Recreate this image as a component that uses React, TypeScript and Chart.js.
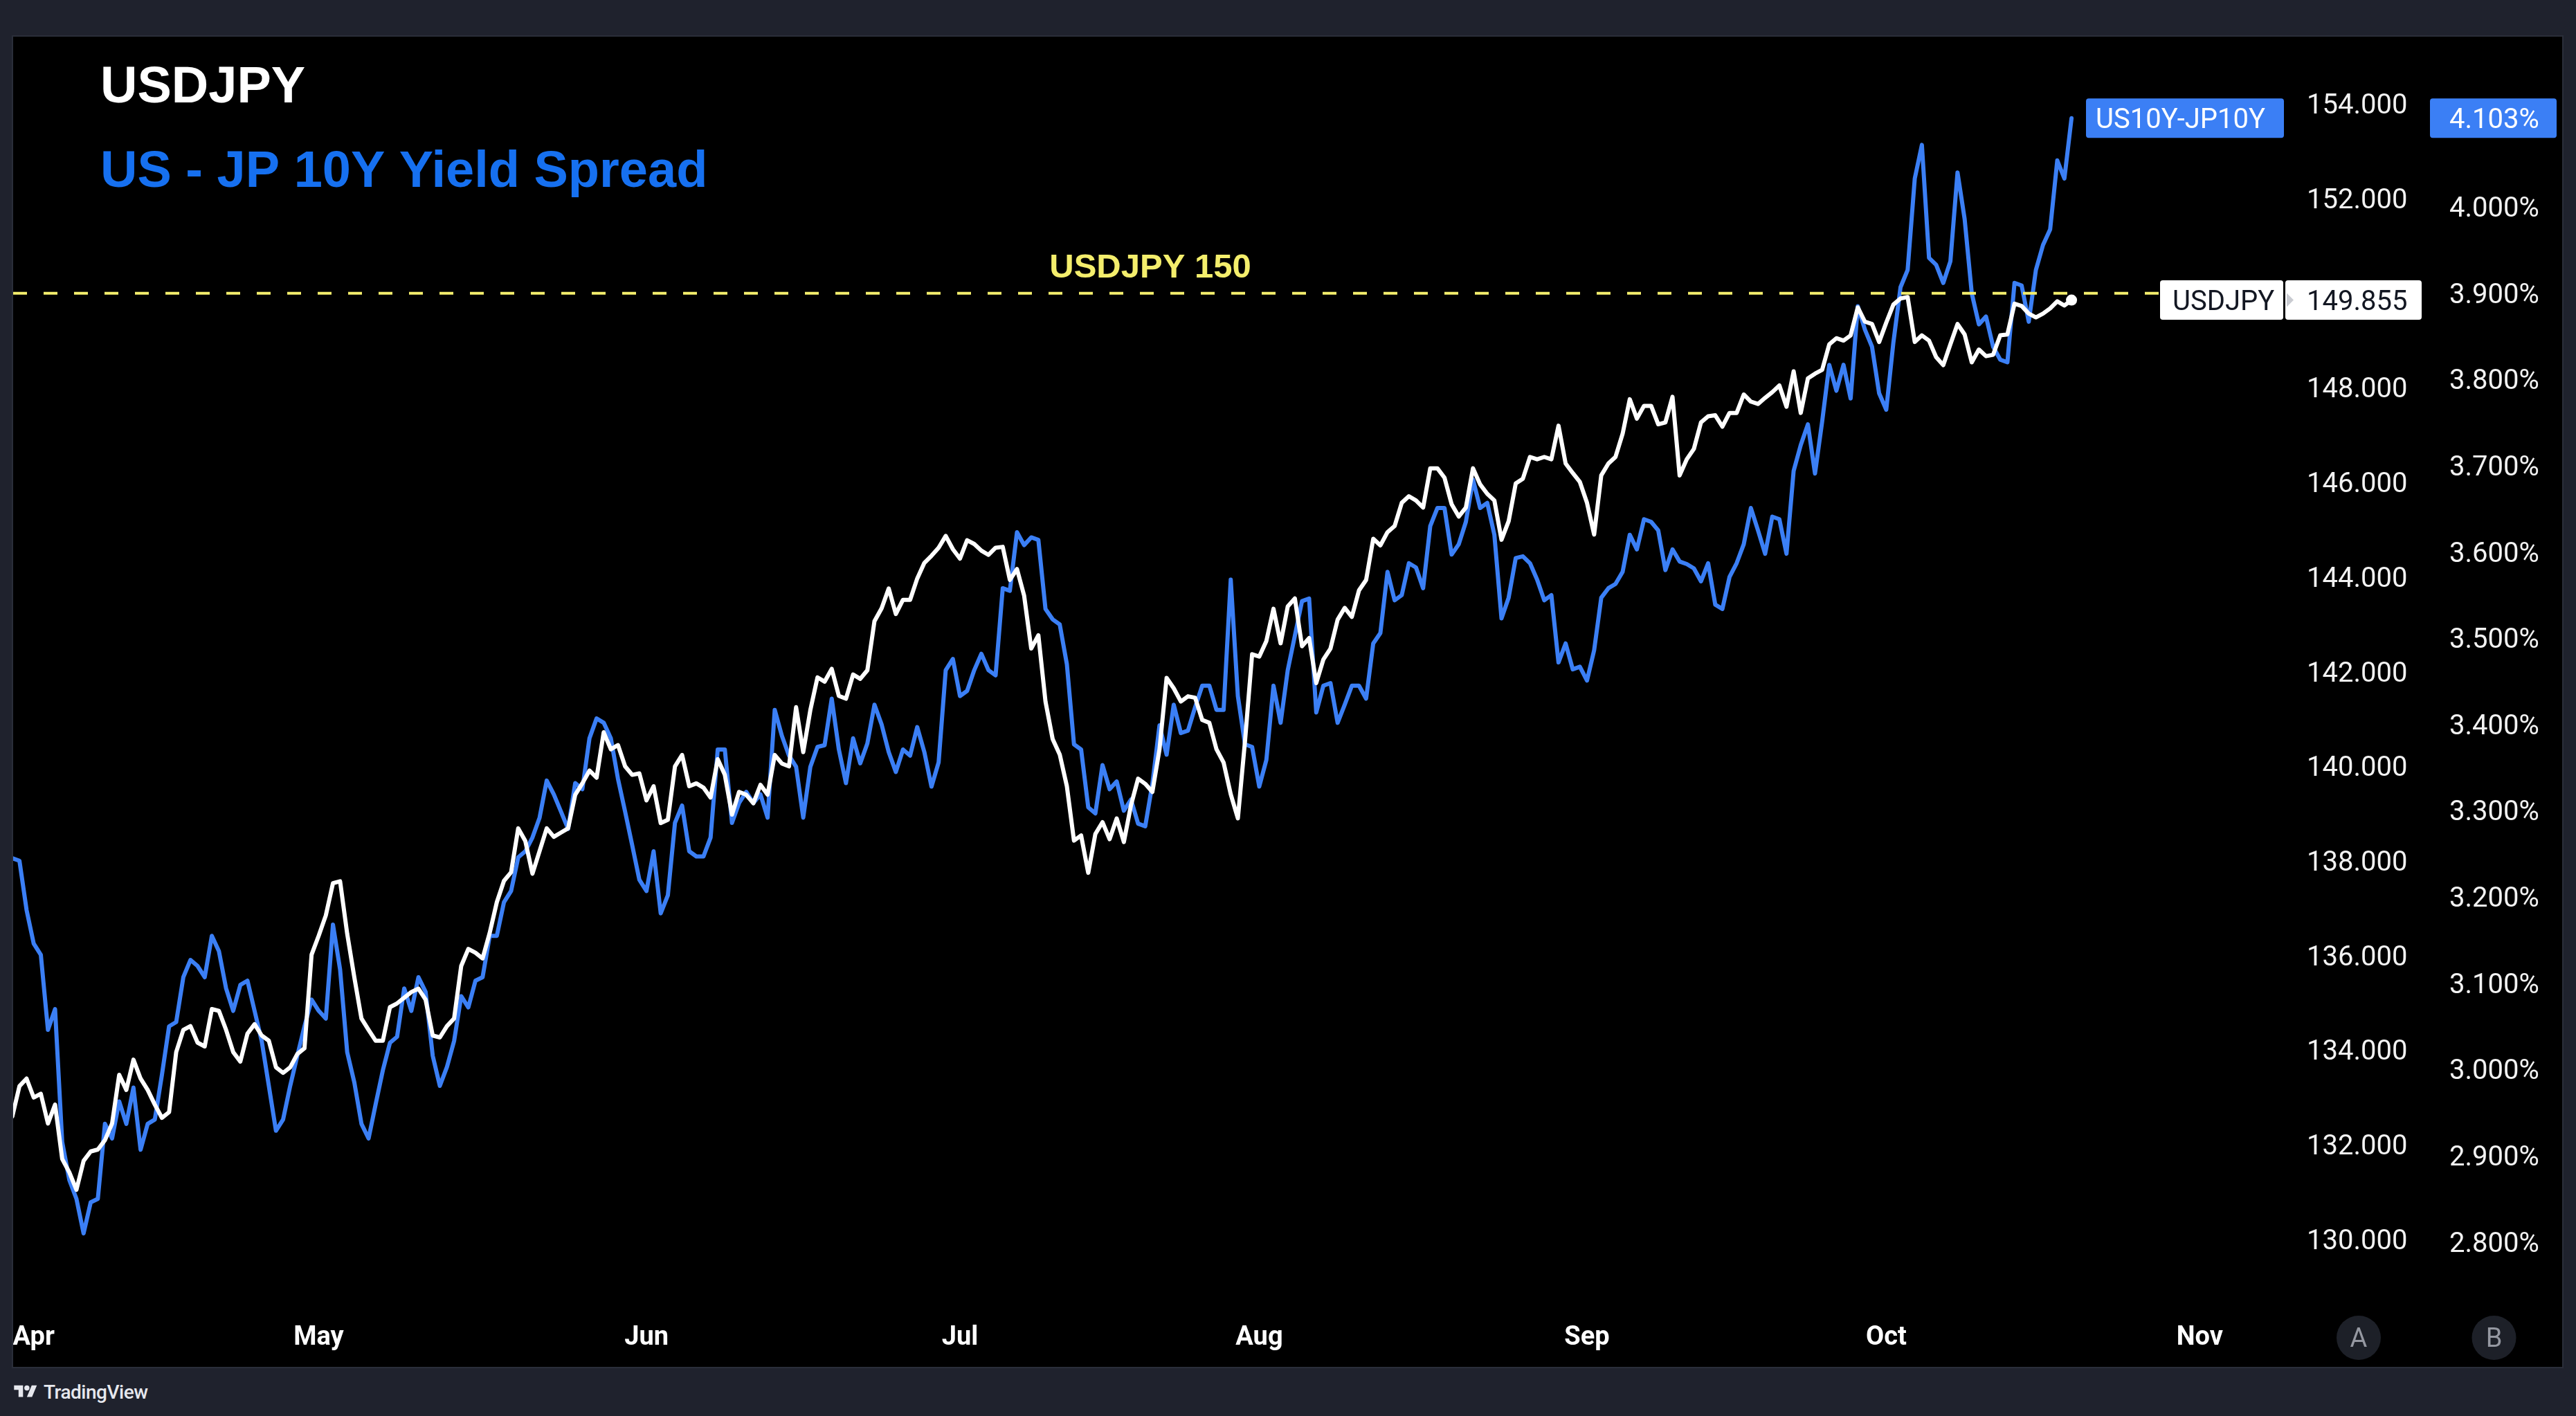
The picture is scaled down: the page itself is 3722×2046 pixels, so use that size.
import React, { useEffect, useRef } from 'react';
import { Chart, registerables } from 'chart.js';

Chart.register(...registerables);

// x positions are trading-day indices (0 = first trading day of April), sampled every half day
const X_START = -1.5;
const X_STEP = 0.5;

const usdjpy = [
  132.6,
  133.24, 133.4, 133.0, 133.08, 132.45, 132.85, 131.7, 131.42, 131.05, 131.66, 131.86, 131.9, 132.1, 132.45, 133.48, 133.16,
  133.8, 133.4, 133.16, 132.85, 132.57, 132.69, 133.96, 134.43, 134.51, 134.16, 134.08, 134.87, 134.83, 134.43, 133.96, 133.76,
  134.35, 134.55, 134.31, 134.2, 133.64, 133.52, 133.64, 133.92, 134.04, 136.02, 136.42, 136.85, 137.53, 137.57, 136.46, 135.54,
  134.67, 134.43, 134.2, 134.2, 134.91, 134.99, 135.11, 135.23, 135.3, 135.07, 134.31, 134.27, 134.51, 134.67, 135.78, 136.14,
  136.06, 135.94,
  136.48, 137.13, 137.58, 137.76, 138.69, 138.42, 137.73, 138.21, 138.69, 138.51, 138.6, 138.69, 139.4, 139.64, 139.91, 139.76,
  140.72, 140.36, 140.45, 140.0, 139.82, 139.85, 139.28, 139.58, 138.8, 138.87, 140.0, 140.24, 139.58, 139.64, 139.55, 139.34,
  140.15, 139.82, 138.98, 139.46, 139.4, 139.22, 139.61, 139.4, 140.24, 140.06, 140.0, 141.25, 140.3, 141.19, 141.88, 141.79,
  142.06, 141.49, 141.43, 141.94, 141.85, 142.03, 143.07, 143.34, 143.76, 143.22, 143.52, 143.52, 143.97, 144.3,
  144.45, 144.62, 144.87, 144.59, 144.39, 144.78, 144.7, 144.56, 144.47, 144.62, 144.64, 143.94, 144.17, 143.61, 142.49, 142.77,
  141.37, 140.58, 140.25, 139.58, 138.43, 138.54, 137.75, 138.57, 138.82, 138.46, 138.9, 138.4, 139.18, 139.74, 139.63, 139.46,
  140.36, 141.87, 141.65, 141.37, 141.48, 141.45, 140.98, 140.92, 140.36, 140.08, 139.41, 138.9, 140.53, 142.37, 142.32, 142.65,
  143.33, 142.6, 143.38, 143.55, 142.54, 142.71, 141.76, 142.26, 142.49, 143.1, 143.35, 143.16, 143.72, 143.94, 144.81, 144.67,
  144.95,
  145.08, 145.57, 145.71, 145.62, 145.47, 146.3, 146.3, 146.1, 145.54, 145.28, 145.47, 146.3, 145.96, 145.76, 145.62, 144.79,
  145.18, 145.98, 146.08, 146.54, 146.49, 146.54, 146.49, 147.2, 146.4, 146.2, 146.01, 145.57, 144.9, 146.15, 146.4, 146.54,
  147.03, 147.76, 147.35, 147.62, 147.62, 147.23, 147.27, 147.81, 146.15, 146.49, 146.71, 147.27, 147.4, 147.42, 147.18, 147.47,
  147.47, 147.86, 147.71, 147.66, 147.79, 147.91, 148.05, 147.6, 148.35, 147.47, 148.2, 148.3,
  148.38, 148.92, 149.05, 149.0, 149.11, 149.7, 149.4, 149.35, 148.97, 149.38, 149.76, 149.89, 149.92, 148.97, 149.11, 149.0,
  148.65, 148.48, 148.92, 149.35, 149.13, 148.54, 148.81, 148.67, 148.7, 149.11, 149.13, 149.78, 149.73, 149.57, 149.49, 149.57,
  149.68, 149.83, 149.74, 149.855,
];

const spread = [
  3.245,
  3.242, 3.185, 3.146, 3.133, 3.046, 3.07, 2.916, 2.872, 2.85, 2.81, 2.846, 2.85, 2.937, 2.92, 2.963, 2.937,
  2.979, 2.907, 2.937, 2.942, 2.994, 3.05, 3.055, 3.107, 3.127, 3.12, 3.107, 3.155, 3.137, 3.094, 3.068, 3.098,
  3.103, 3.068, 3.033, 2.981, 2.929, 2.942, 2.981, 3.016, 3.05, 3.081, 3.068, 3.059, 3.168, 3.116, 3.02, 2.985,
  2.937, 2.92, 2.96, 2.999, 3.031, 3.038, 3.094, 3.068, 3.107, 3.09, 3.016, 2.981, 3.003, 3.033, 3.085, 3.072,
  3.103, 3.107,
  3.155, 3.155, 3.194, 3.207, 3.246, 3.253, 3.269, 3.292, 3.335, 3.319, 3.299, 3.279, 3.332, 3.325, 3.384, 3.407,
  3.402, 3.384, 3.337, 3.299, 3.26, 3.22, 3.207, 3.253, 3.181, 3.202, 3.286, 3.306, 3.253, 3.247, 3.247, 3.269,
  3.371, 3.371, 3.286, 3.309, 3.322, 3.309, 3.319, 3.292, 3.417, 3.387, 3.364, 3.351, 3.292, 3.351, 3.374, 3.376,
  3.43, 3.371, 3.332, 3.384, 3.355, 3.378, 3.423, 3.4, 3.368, 3.345, 3.371, 3.364, 3.397, 3.368,
  3.328, 3.356, 3.463, 3.476, 3.433, 3.439, 3.463, 3.482, 3.463, 3.457, 3.558, 3.555, 3.623, 3.608, 3.617, 3.614,
  3.534, 3.522, 3.516, 3.47, 3.377, 3.371, 3.304, 3.297, 3.353, 3.325, 3.334, 3.3, 3.313, 3.285, 3.282, 3.331,
  3.399, 3.365, 3.423, 3.39, 3.393, 3.42, 3.445, 3.445, 3.417, 3.417, 3.568, 3.433, 3.377, 3.374, 3.328, 3.359,
  3.445, 3.402, 3.463, 3.503, 3.543, 3.546, 3.414, 3.445, 3.448, 3.402, 3.423, 3.445, 3.445, 3.43, 3.494, 3.506,
  3.577,
  3.544, 3.55, 3.587, 3.582, 3.558, 3.63, 3.651, 3.651, 3.597, 3.609, 3.635, 3.684, 3.651, 3.657, 3.62, 3.523,
  3.547, 3.593, 3.595, 3.587, 3.568, 3.544, 3.55, 3.472, 3.494, 3.464, 3.467, 3.451, 3.486, 3.547, 3.558, 3.563,
  3.577, 3.62, 3.603, 3.638, 3.635, 3.625, 3.579, 3.603, 3.589, 3.586, 3.581, 3.566, 3.587, 3.539, 3.534, 3.571,
  3.587, 3.609, 3.651, 3.625, 3.598, 3.641, 3.638, 3.598, 3.694, 3.724, 3.748, 3.691,
  3.751, 3.817, 3.787, 3.817, 3.778, 3.885, 3.858, 3.838, 3.784, 3.765, 3.843, 3.907, 3.927, 4.033, 4.072, 3.941,
  3.933, 3.912, 3.937, 4.04, 3.986, 3.9, 3.864, 3.873, 3.838, 3.823, 3.82, 3.912, 3.909, 3.867, 3.927, 3.956,
  3.974, 4.054, 4.033, 4.103,
];

const monthLabels = ['Apr', 'May', 'Jun', 'Jul', 'Aug', 'Sep', 'Oct', 'Nov'];
const monthStartIndex = [0, 20, 43, 65, 86, 109, 130, 152];
const jpyTicks = [130, 132, 134, 136, 138, 140, 142, 144, 146, 148, 150, 152, 154];
const spreadTicks = [2.8, 2.9, 3.0, 3.1, 3.2, 3.3, 3.4, 3.5, 3.6, 3.7, 3.8, 3.9, 4.0, 4.1];
const xRange = [-1.442, 158.44];
const jpyRange = [128.477, 155.423];
const spreadRange = [2.7194, 4.1975];
const hLineLevel = 150;

const BLUE = '#3b7ff5';
const TITLE_BLUE = '#1670f0';
const YELLOW = '#f4ee6c';
const AXIS_FONT = 'Roboto, "Noto Sans", sans-serif';
const TITLE_FONT = '"Liberation Sans", Arial, sans-serif';
// Roboto's "middle" sits a little high; nudge axis labels down by this many pixels
const LABEL_NUDGE = 4;

function fillRound(ctx: CanvasRenderingContext2D, x: number, y: number, w: number, h: number, r: number, color: string) {
  ctx.beginPath();
  if ((ctx as any).roundRect) (ctx as any).roundRect(x, y, w, h, r);
  else ctx.rect(x, y, w, h);
  ctx.fillStyle = color;
  ctx.fill();
}

const overlayPlugin = {
  id: 'tvOverlay',
  afterDatasetsDraw(chart: any) {
    const { ctx, chartArea } = chart;
    const yJ = chart.scales.yJ;
    const y150 = yJ.getPixelForValue(hLineLevel);
    ctx.save();
    ctx.beginPath();
    ctx.rect(chartArea.left, chartArea.top, chartArea.right - chartArea.left, chartArea.bottom - chartArea.top);
    ctx.clip();
    ctx.strokeStyle = YELLOW;
    ctx.lineWidth = 4;
    ctx.setLineDash([20, 24]);
    ctx.beginPath();
    ctx.moveTo(chartArea.left, y150);
    ctx.lineTo(chartArea.right - 190, y150);
    ctx.stroke();
    ctx.setLineDash([]);
    ctx.fillStyle = YELLOW;
    ctx.font = `bold 49px ${TITLE_FONT}`;
    ctx.textAlign = 'center';
    ctx.textBaseline = 'middle';
    ctx.fillText('USDJPY 150', (chartArea.left + chartArea.right) / 2 - 3, y150 - 36);
    ctx.restore();
  },
  afterDraw(chart: any) {
    const { ctx, chartArea } = chart;
    const yJ = chart.scales.yJ;
    const yS = chart.scales.yS;
    const xS = chart.scales.x;
    ctx.save();

    ctx.textAlign = 'left';
    ctx.textBaseline = 'alphabetic';
    ctx.font = `bold 74px ${TITLE_FONT}`;
    ctx.fillStyle = '#ffffff';
    ctx.fillText('USDJPY', chartArea.left + 126, 95);
    ctx.fillStyle = TITLE_BLUE;
    ctx.fillText('US - JP 10Y Yield Spread', chartArea.left + 126, 217);

    const lastJ = usdjpy[usdjpy.length - 1];
    const lastS = spread[spread.length - 1];
    const yLJ = yJ.getPixelForValue(lastJ);
    const yLS = yS.getPixelForValue(lastS);
    const bh = 57;

    ctx.textBaseline = 'middle';
    ctx.font = `40px ${AXIS_FONT}`;

    fillRound(ctx, chartArea.right - 297, yLS - bh / 2, 286, bh, 4, BLUE);
    ctx.fillStyle = '#ffffff';
    ctx.textAlign = 'left';
    ctx.fillText('US10Y-JP10Y', chartArea.right - 283, yLS + LABEL_NUDGE);
    fillRound(ctx, yS.left + 6, yLS - bh / 2, 183, bh, 4, BLUE);
    ctx.fillStyle = '#ffffff';
    ctx.fillText(lastS.toFixed(3) + '%', yS.left + 34, yLS + LABEL_NUDGE);

    fillRound(ctx, chartArea.right - 190, yLJ - bh / 2, 178, bh, 4, '#ffffff');
    fillRound(ctx, yJ.left - 9, yLJ - bh / 2, 197, bh, 4, '#ffffff');
    ctx.fillStyle = '#131722';
    ctx.fillText('USDJPY', chartArea.right - 172, yLJ + LABEL_NUDGE);
    ctx.fillText(lastJ.toFixed(3), yJ.left + 22, yLJ + LABEL_NUDGE);
    ctx.fillStyle = '#c9cbd1';
    ctx.beginPath();
    ctx.moveTo(yJ.left - 7, yLJ - 10);
    ctx.lineTo(yJ.left + 3, yLJ);
    ctx.lineTo(yJ.left - 7, yLJ + 10);
    ctx.closePath();
    ctx.fill();

    const cy = xS.top + 38;
    const btns: [number, string][] = [
      [yJ.left + yJ.width / 2, 'A'],
      [yS.left + yS.width / 2, 'B'],
    ];
    ctx.font = `38px ${AXIS_FONT}`;
    ctx.textAlign = 'center';
    for (const [cx, t] of btns) {
      ctx.beginPath();
      ctx.arc(cx, cy, 32, 0, Math.PI * 2);
      ctx.fillStyle = '#1d2028';
      ctx.fill();
      ctx.fillStyle = '#9598a1';
      ctx.fillText(t, cx, cy + 3);
    }
    ctx.restore();
  },
};

export default function App() {
  const canvasRef = useRef<HTMLCanvasElement>(null);

  useEffect(() => {
    document.body.style.margin = '0';
    const canvas = canvasRef.current;
    if (!canvas) return;
    const jpyData = usdjpy.map((v, i) => ({ x: X_START + i * X_STEP, y: v }));
    const spreadData = spread.map((v, i) => ({ x: X_START + i * X_STEP, y: v }));
    const lastIdx = usdjpy.length - 1;
    const jpyPx = 1842 / (jpyRange[1] - jpyRange[0]);
    const spreadPx = 1842 / (spreadRange[1] - spreadRange[0]);

    const chart = new Chart(canvas, {
      type: 'line',
      data: {
        datasets: [
          {
            label: 'USDJPY',
            data: jpyData,
            yAxisID: 'yJ',
            borderColor: '#ffffff',
            borderWidth: 6,
            pointRadius: (c: any) => (c.dataIndex === lastIdx ? 8 : 0),
            pointBackgroundColor: '#ffffff',
            pointBorderWidth: 0,
            tension: 0,
            borderJoinStyle: 'round',
            borderCapStyle: 'round',
          },
          {
            label: 'US10Y-JP10Y',
            data: spreadData,
            yAxisID: 'yS',
            borderColor: BLUE,
            borderWidth: 6,
            pointRadius: 0,
            tension: 0,
            borderJoinStyle: 'round',
            borderCapStyle: 'round',
          },
        ],
      },
      options: {
        animation: false,
        responsive: false,
        maintainAspectRatio: false,
        devicePixelRatio: 1,
        events: [],
        layout: { padding: 0, autoPadding: false },
        plugins: {
          legend: { display: false },
          tooltip: { enabled: false },
          title: { display: false },
        },
        scales: {
          x: {
            type: 'linear',
            position: 'bottom',
            min: xRange[0],
            max: xRange[1],
            grid: { display: false, drawTicks: false },
            border: { display: false },
            afterBuildTicks: (s: any) => {
              s.ticks = monthStartIndex.map((v) => ({ value: v }));
            },
            afterFit: (s: any) => {
              s.height = 80;
              s.paddingLeft = 0;
              s.paddingRight = 0;
            },
            ticks: {
              autoSkip: false,
              maxRotation: 0,
              minRotation: 0,
              padding: 16,
              color: '#ffffff',
              font: { family: AXIS_FONT, size: 38, weight: 'bold' },
              callback: (_v: any, i: number) => monthLabels[i],
            },
          },
          yJ: {
            type: 'linear',
            position: 'right',
            weight: 0,
            min: jpyRange[0],
            max: jpyRange[1],
            grid: { display: false, drawTicks: false },
            border: { display: false },
            afterBuildTicks: (s: any) => {
              s.ticks = jpyTicks.map((v) => ({ value: v - LABEL_NUDGE / jpyPx }));
            },
            afterFit: (s: any) => {
              s.width = 194;
              s.paddingTop = 0;
              s.paddingBottom = 0;
            },
            ticks: {
              autoSkip: false,
              crossAlign: 'near',
              padding: 22,
              color: '#f2f2f2',
              font: { family: AXIS_FONT, size: 40 },
              callback: (_v: any, i: number) => jpyTicks[i].toFixed(3),
            },
          },
          yS: {
            type: 'linear',
            position: 'right',
            weight: 1,
            min: spreadRange[0],
            max: spreadRange[1],
            grid: { display: false, drawTicks: false },
            border: { display: false },
            afterBuildTicks: (s: any) => {
              s.ticks = spreadTicks.map((v) => ({ value: v - LABEL_NUDGE / spreadPx }));
            },
            afterFit: (s: any) => {
              s.width = 197;
              s.paddingTop = 0;
              s.paddingBottom = 0;
            },
            ticks: {
              autoSkip: false,
              crossAlign: 'near',
              padding: 34,
              color: '#f2f2f2',
              font: { family: AXIS_FONT, size: 40 },
              callback: (_v: any, i: number) => spreadTicks[i].toFixed(3) + '%',
            },
          },
        },
      } as any,
      plugins: [overlayPlugin as any],
    });

    return () => chart.destroy();
  }, []);

  return (
    <div
      style={{
        position: 'absolute',
        left: 0,
        top: 0,
        width: 3722,
        height: 2046,
        background: '#1f222d',
        overflow: 'hidden',
      }}
    >
      <div
        style={{
          position: 'absolute',
          left: 19,
          top: 53,
          width: 3683,
          height: 1922,
          background: '#000000',
          boxShadow: '0 0 0 2px #2a2e39',
        }}
      >
        <canvas ref={canvasRef} width={3683} height={1922} style={{ display: 'block', width: 3683, height: 1922 }} />
      </div>
      <div
        style={{
          position: 'absolute',
          left: 19,
          top: 1996,
          height: 30,
          display: 'flex',
          alignItems: 'center',
          gap: 8,
          color: '#e6e8ee',
          fontFamily: 'Roboto, sans-serif',
          fontWeight: 500,
          fontSize: 28,
          letterSpacing: -0.5,
        }}
      >
        <svg width="36" height="26" viewBox="0 0 36 28" fill="currentColor">
          <path d="M14 22H7V11H0V4h14v18zM28 22h-8l7.5-18h8L28 22z" />
          <circle cx="20" cy="8" r="4" />
        </svg>
        <span>TradingView</span>
      </div>
    </div>
  );
}
